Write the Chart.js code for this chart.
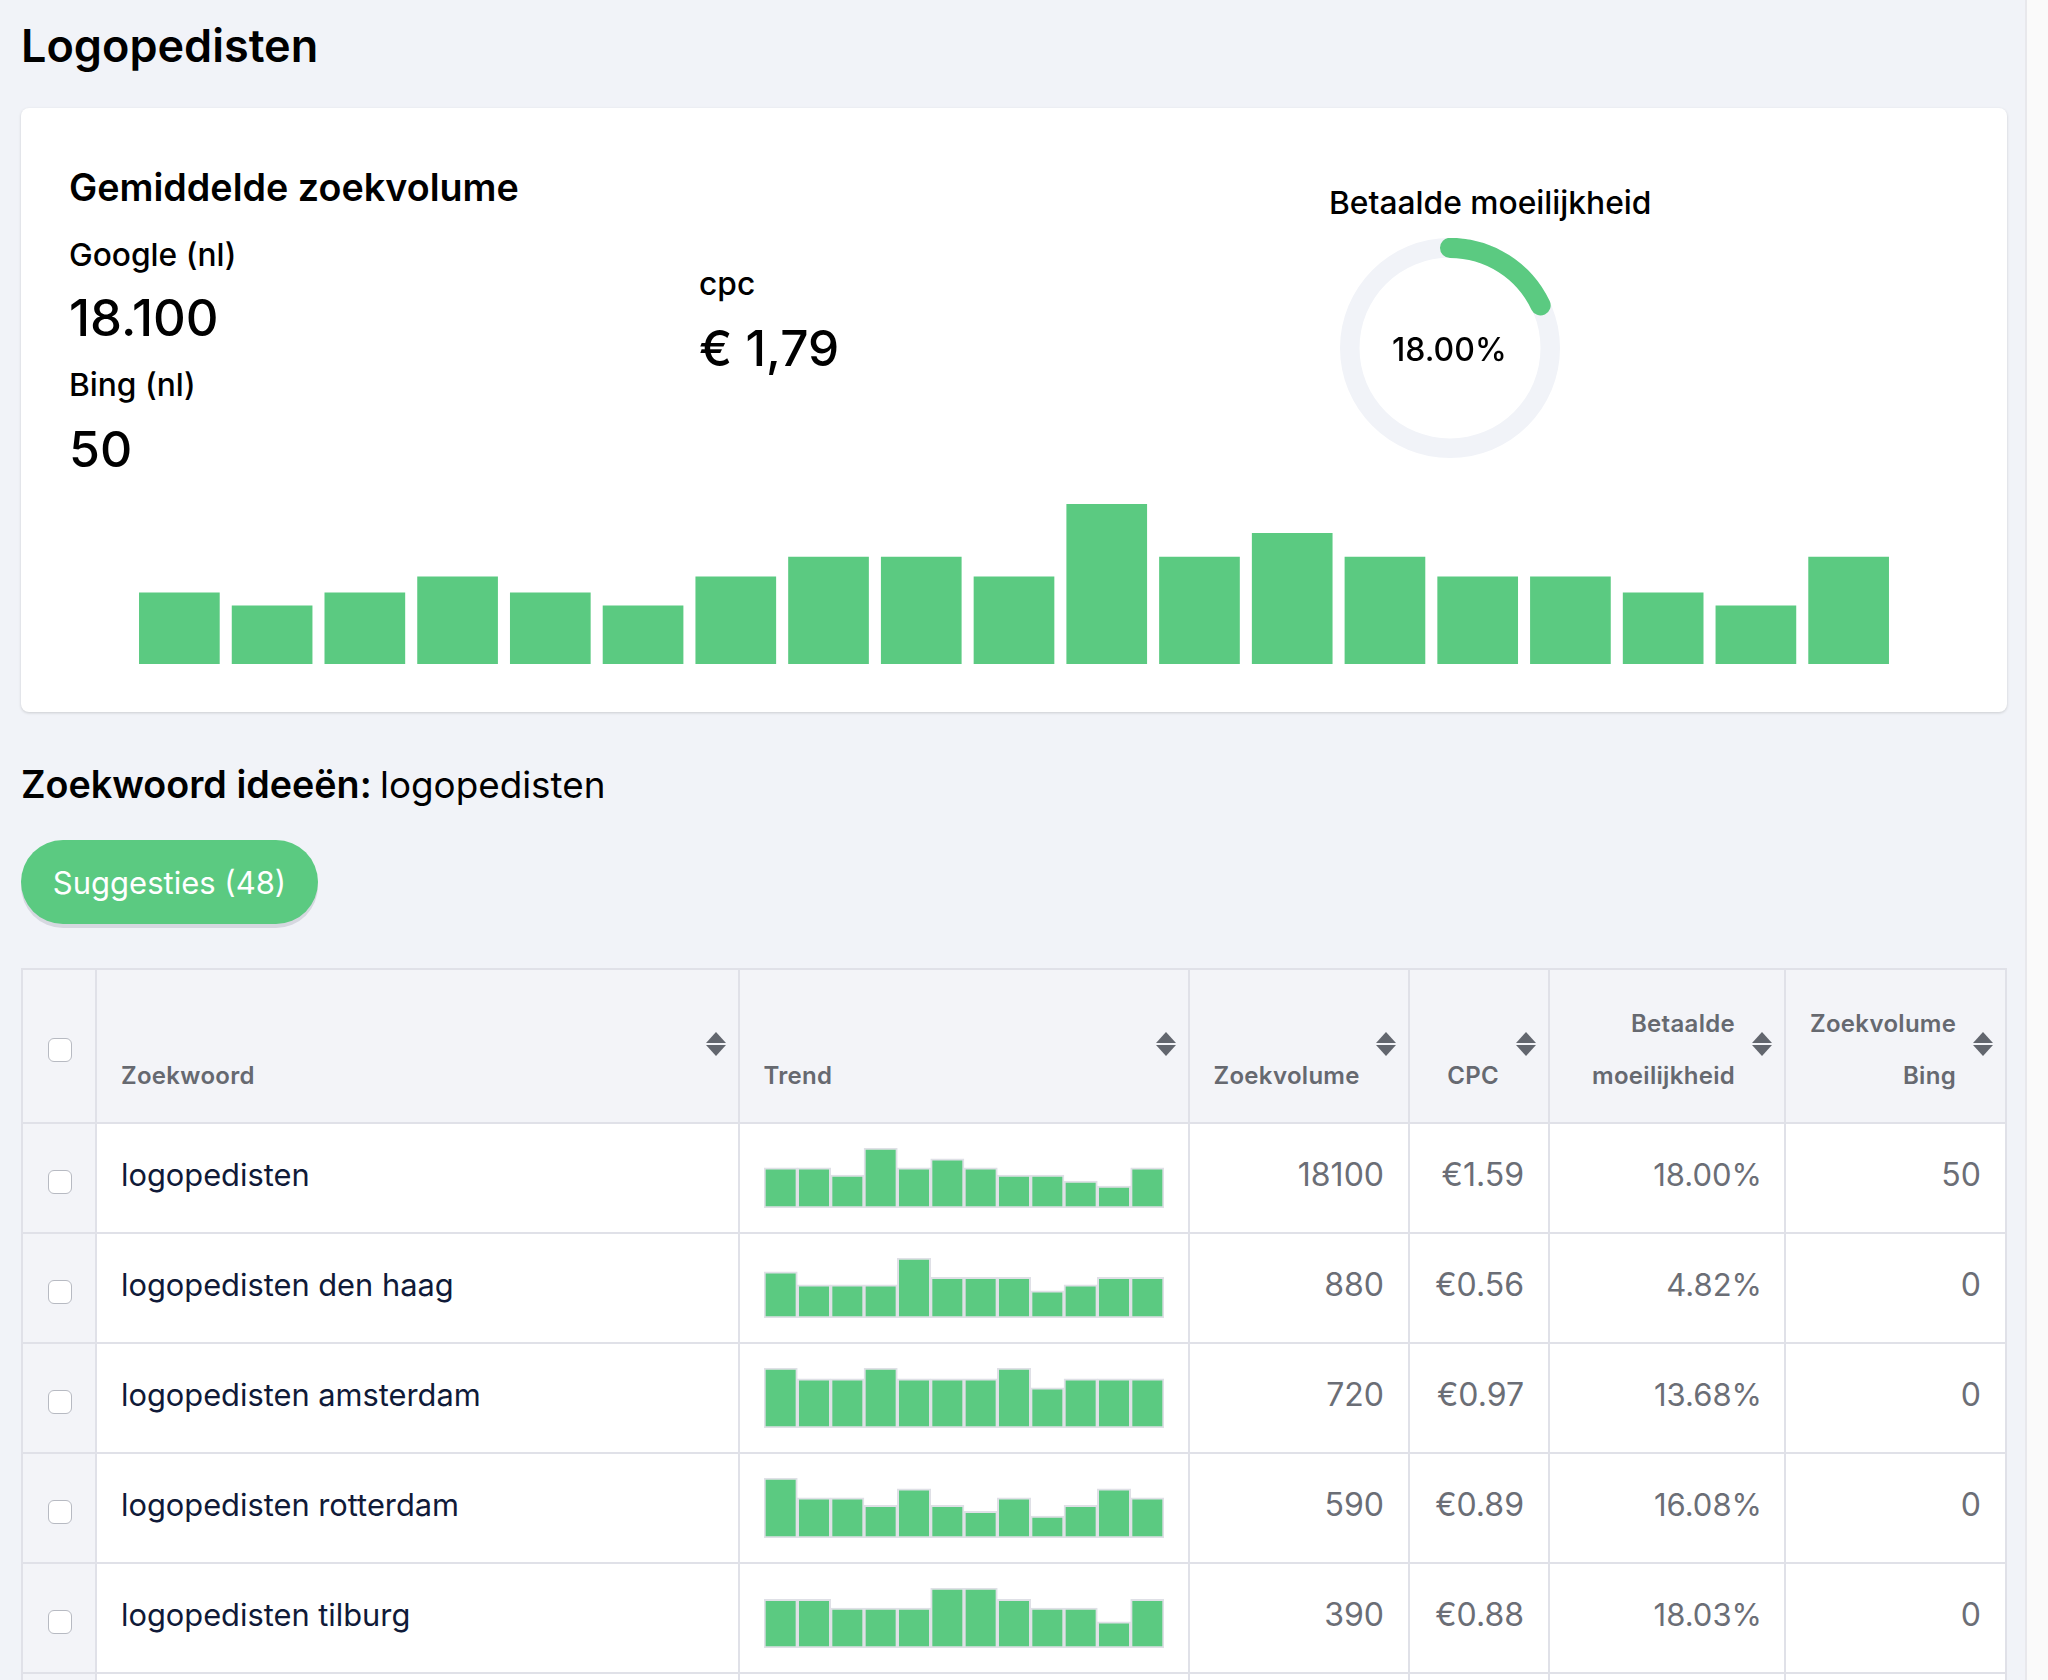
<!DOCTYPE html>
<html lang="nl">
<head>
<meta charset="utf-8">
<title>Logopedisten</title>
<script src="https://cdn.jsdelivr.net/npm/chart.js@4"></script>
<style>
  html, body { margin: 0; padding: 0; }
  body { width: 2048px; height: 1680px; overflow: hidden; position: relative; background: #f1f3f8; font-family: Inter, sans-serif; color: #000; }
  .t { position: absolute; white-space: nowrap; line-height: 1; }
  #scrollbar { position: absolute; left: 2025px; top: 0; width: 23px; height: 1680px; background: #fafafa; border-left: 2px solid #e8e8ec; box-sizing: border-box; }
  #card { position: absolute; left: 21px; top: 108px; width: 1986px; height: 604px; background: #fff; border-radius: 8px; box-shadow: 0 1px 3px rgba(0,0,0,.16); }
  #volumeWrap { position: absolute; left: 133px; top: 504px; width: 1762px; height: 160px; }
  .ring { position: absolute; left: 1340px; top: 238px; width: 220px; height: 220px; }
  #pill { position: absolute; left: 21px; top: 840px; width: 297px; height: 84px; border-radius: 42px; background: #5bca81; box-shadow: 0 4px 0 #d6d8e0; color: #fff; font-size: 31px; line-height: 86px; text-align: center; font-weight: 400; }
  table { position: absolute; left: 21px; top: 968px; border-collapse: collapse; table-layout: fixed; width: 1984px; background: #fff; }
  th, td { border: 2.5px solid #e0e1e8; position: relative; box-sizing: border-box; padding: 0; }
  th { height: 154px; background: #f3f4f8; color: #666970; font-size: 24px; font-weight: 600; line-height: 52px; vertical-align: bottom; padding: 0 49px 20px 24px; text-align: left; letter-spacing: .3px; }
  th.num { text-align: right; }
  td { height: 110px; font-size: 32px; font-weight: 400; color: #6b6e76; text-align: right; padding: 0 24px 8px; }
  td.kw { color: #101a38; text-align: left; font-size: 30.8px; padding-left: 24px; }
  td.diff { font-size: 31px; padding-right: 22px; }
  td.chk, th.chk { background: #f3f4f8; padding: 0; }
  .box { position: absolute; left: 25px; width: 24px; height: 24px; border: 1.5px solid #b7bac2; border-radius: 6px; background: #fff; box-sizing: border-box; }
  .sort { position: absolute; top: 62px; right: 12px; width: 20px; height: 24px; }
  .sort i { display: block; width: 0; height: 0; border-left: 10px solid transparent; border-right: 10px solid transparent; }
  .sort i:first-child { border-bottom: 11px solid #62666e; margin-bottom: 2px; }
  .sort i:last-child { border-top: 11px solid #62666e; }
  .spark { position: absolute; left: 24px; top: 24px; width: 400px; height: 60px; }
</style>
</head>
<body>
<div id="scrollbar"></div>
<div class="t" style="left:21px;top:23px;font-size:45px;font-weight:600">Logopedisten</div>
<div id="card"></div>
<div class="t" style="left:69px;top:169px;font-size:37.7px;font-weight:600">Gemiddelde zoekvolume</div>
<div class="t" style="left:69px;top:239px;font-size:31.7px;font-weight:500">Google (nl)</div>
<div class="t" style="left:69px;top:293px;font-size:50.8px;font-weight:500">18.100</div>
<div class="t" style="left:69px;top:369px;font-size:31.7px;font-weight:500">Bing (nl)</div>
<div class="t" style="left:69px;top:424px;font-size:50px;font-weight:500">50</div>
<div class="t" style="left:699px;top:268px;font-size:31.7px;font-weight:500">cpc</div>
<div class="t" style="left:699px;top:324px;font-size:49.5px;font-weight:500">€ 1,79</div>
<div class="t" style="left:1329px;top:187px;font-size:31.75px;font-weight:500">Betaalde moeilijkheid</div>
<div id="volumeWrap"><canvas id="volumeChart"></canvas></div>
<div class="ring"><canvas id="ringBack"></canvas></div>
<div class="ring"><canvas id="ringFront"></canvas></div>
<div class="t" style="left:1392px;top:334px;font-size:32px;font-weight:500">18.00%</div>
<div class="t" style="left:21px;top:766px;font-size:36.8px"><b style="font-weight:600;font-size:37.7px;margin-right:-2px">Zoekwoord ideeën:</b> logopedisten</div>
<div id="pill">Suggesties (48)</div>
<table id="keywordTable">
  <colgroup><col style="width:74px"><col style="width:642.5px"><col style="width:450px"><col style="width:220.5px"><col style="width:140px"><col style="width:236px"><col style="width:221px"></colgroup>
  <thead><tr id="headRow"></tr></thead>
  <tbody id="rows"></tbody>
</table>

<script>
const monthLabels = ['1','2','3','4','5','6','7','8','9','10','11','12','13','14','15','16','17','18','19'];
const monthVolumes = [14800,12100,14800,18100,14800,12100,18100,22200,22200,18100,33100,22200,27100,22200,18100,18100,14800,12100,22200];

const difficultyPercent = 18;

const headers = ['Zoekwoord','Trend','Zoekvolume','CPC','Betaalde<br>moeilijkheid','Zoekvolume<br>Bing'];

const keywords = ['logopedisten','logopedisten den haag','logopedisten amsterdam','logopedisten rotterdam','logopedisten tilburg',''];
const volumes = ['18100','880','720','590','390',''];
const cpcs = ['€1.59','€0.56','€0.97','€0.89','€0.88',''];
const difficulties = ['18.00%','4.82%','13.68%','16.08%','18.03%',''];
const bingVolumes = ['50','0','0','0','0',''];

const trendRow1 = [22200,22200,18100,33100,22200,27100,22200,18100,18100,14800,12100,22200];
const trendRow2 = [1000,720,720,720,1300,880,880,880,590,720,880,880];
const trendRow3 = [880,720,720,880,720,720,720,880,590,720,720,720];
const trendRow4 = [880,590,590,480,720,480,390,590,320,480,720,590];
const trendRow5 = [390,390,320,320,320,480,480,390,320,320,210,390];
const trends = [trendRow1, trendRow2, trendRow3, trendRow4, trendRow5];

const GREEN = '#5bca81';
const GRID = '#dfe0e6';

Chart.defaults.animation = false;
Chart.defaults.responsive = true;
Chart.defaults.maintainAspectRatio = false;
Chart.defaults.plugins.legend.display = false;
Chart.defaults.plugins.tooltip.enabled = false;

// grote staafgrafiek in de kaart
new Chart(document.getElementById('volumeChart'), {
  type: 'bar',
  data: {
    labels: monthLabels,
    datasets: [{ data: monthVolumes, backgroundColor: GREEN, barPercentage: 0.87, categoryPercentage: 1 }],
  },
  options: {
    layout: { padding: 0 },
    scales: {
      x: { display: false },
      y: { display: false, min: 0, max: 33100 },
    },
  },
});

// grijze ring achter de waarde
new Chart(document.getElementById('ringBack'), {
  type: 'doughnut',
  data: { datasets: [{ data: [100], backgroundColor: '#f1f3f8', borderWidth: 0 }] },
  options: { cutout: 90.5, radius: 110 },
});

// groene boog: dunne arc met dikke rand geeft ronde uiteinden
new Chart(document.getElementById('ringFront'), {
  type: 'doughnut',
  data: {
    datasets: [{
      data: [difficultyPercent, 100 - difficultyPercent],
      backgroundColor: [GREEN, 'rgba(0,0,0,0)'],
      borderColor: [GREEN, 'rgba(0,0,0,0)'],
      borderWidth: 20,
      borderAlign: 'center',
      borderJoinStyle: 'round',
    }],
  },
  options: { cutout: 99.8, radius: 100.2 },
});

const head = document.getElementById('headRow');
head.innerHTML = '<th class="chk"><span class="box" style="top:68px"></span></th>' +
  headers.map((h, i) => `<th class="${i > 1 ? 'num' : ''}">${h}<span class="sort"><i></i><i></i></span></th>`).join('');

const body = document.getElementById('rows');
keywords.forEach((kw, i) => {
  const tr = document.createElement('tr');
  tr.innerHTML = `<td class="chk"><span class="box" style="top:46px"></span></td>
    <td class="kw">${kw}</td>
    <td style="padding:0">${trends[i] ? `<div class="spark"><canvas id="spark${i}"></canvas></div>` : ''}</td>
    <td>${volumes[i]}</td><td>${cpcs[i]}</td><td class="diff">${difficulties[i]}</td><td>${bingVolumes[i]}</td>`;
  body.appendChild(tr);
});

// sparkline per zoekwoord
trends.forEach((values, i) => {
  new Chart(document.getElementById(`spark${i}`), {
    type: 'bar',
    data: {
      labels: values.map((_, k) => k + 1),
      datasets: [{
        data: values,
        backgroundColor: GREEN,
        borderColor: GRID,
        borderWidth: 2,
        borderSkipped: false,
        barPercentage: 1,
        categoryPercentage: 1,
      }],
    },
    options: {
      layout: { padding: 0 },
      scales: {
        x: { display: false },
        y: { display: false, min: 0, max: Math.max(...values) },
      },
    },
  });
});
</script>
</body>
</html>
